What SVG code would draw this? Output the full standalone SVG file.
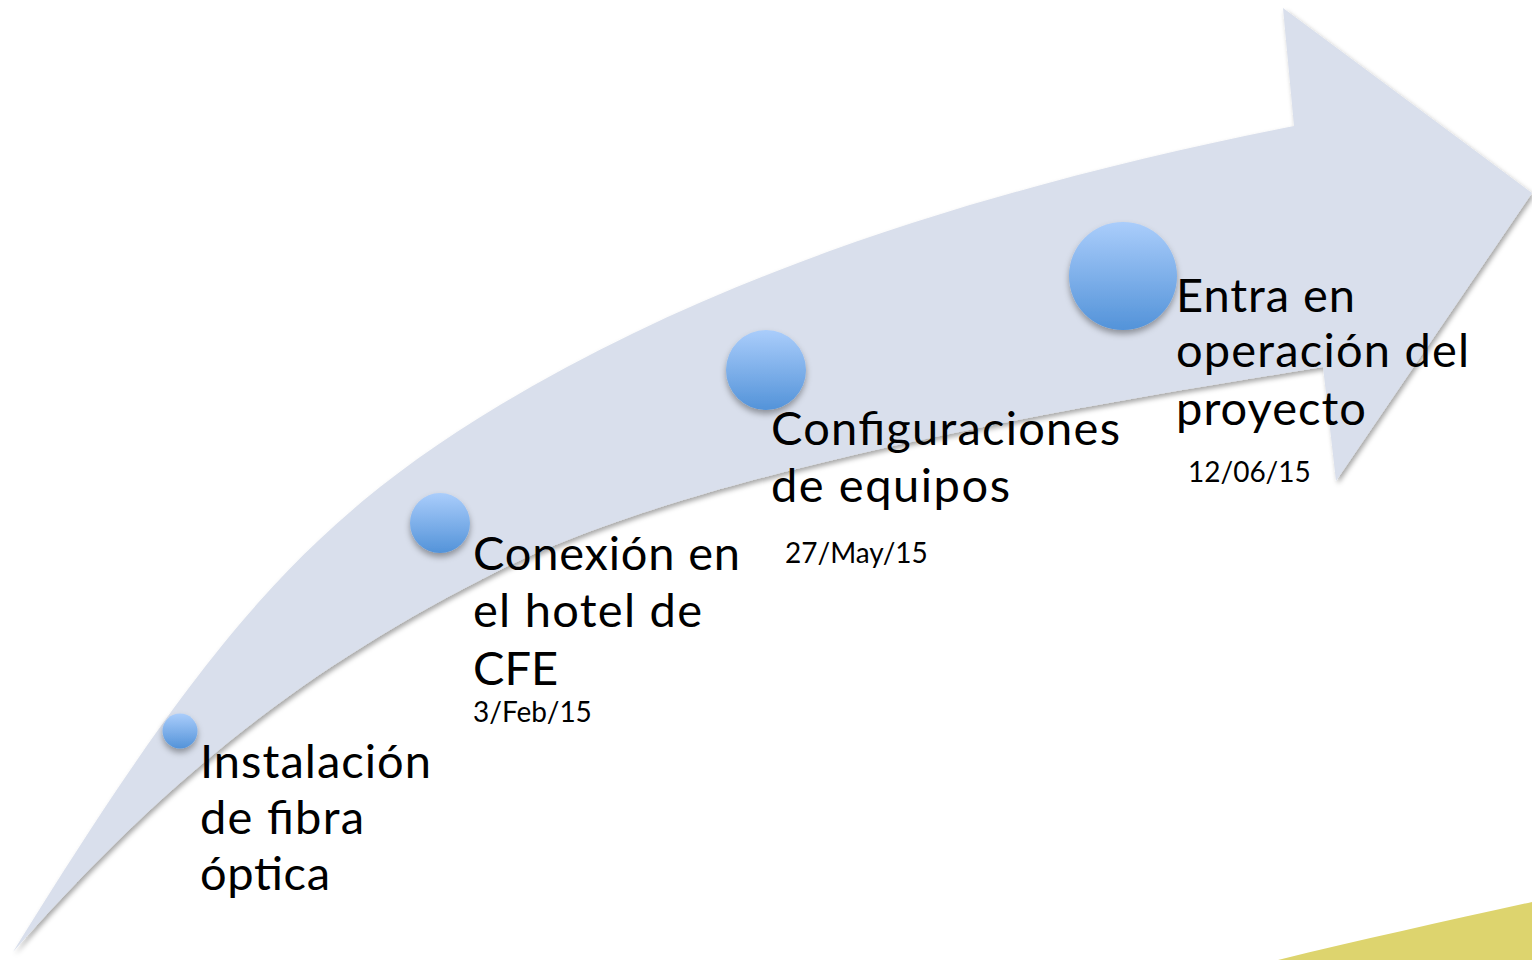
<svg xmlns="http://www.w3.org/2000/svg" width="1532" height="960" viewBox="0 0 1532 960">
  <defs>
    <linearGradient id="ball" x1="0" y1="0" x2="0" y2="1">
      <stop offset="0" stop-color="#AACDFB"/>
      <stop offset="1" stop-color="#5393D9"/>
    </linearGradient>
    <filter id="arrowShadow" x="-5%" y="-5%" width="110%" height="115%">
      <feDropShadow dx="2" dy="3" stdDeviation="2.5" flood-color="#000" flood-opacity="0.35"/>
    </filter>
    <filter id="ballShadow" x="-30%" y="-30%" width="160%" height="170%">
      <feDropShadow dx="0" dy="4" stdDeviation="3" flood-color="#000" flood-opacity="0.35"/>
    </filter>
    <style>
      .big { font-family: Lato, "Liberation Sans", sans-serif; font-size: 47px; fill: #000; }
      .date { font-family: Lato, "Liberation Sans", sans-serif; font-size: 28px; fill: #000; }
      .ball { fill: url(#ball); filter: url(#ballShadow); }
    </style>
  </defs>
  <rect width="1532" height="960" fill="#FFFFFF"/>
  <path id="accent" d="M1278,960 C1360,940 1450,920 1532,902 L1532,960 Z" fill="#DDD46E"/>
  <g id="arrow">
    <path filter="url(#arrowShadow)" fill="#D9DFEC"
      d="M13,952 C200,650 300,525 500,405 C750,255 1044,176 1294,126 L1283,8 L1532,193 L1336,481 L1323,367 C1073,407 700,470 500,570 C300,670 163,782 13,952 Z"/>
  </g>
  <g id="connectors"></g>
  <g id="node1">
    <circle class="ball" cx="180" cy="731" r="17.5"/>
    <text class="big" x="200" y="778" textLength="231" lengthAdjust="spacing">Instalación</text>
    <text class="big" x="200" y="834" textLength="164" lengthAdjust="spacing">de fibra</text>
    <text class="big" x="200" y="890" textLength="130" lengthAdjust="spacing">óptica</text>
  </g>
  <g id="node2">
    <circle class="ball" cx="440" cy="523" r="30"/>
    <text class="big" x="473" y="570" textLength="267" lengthAdjust="spacing">Conexión en</text>
    <text class="big" x="473" y="627" textLength="229" lengthAdjust="spacing">el hotel de</text>
    <text class="big" x="473" y="685">CFE</text>
    <text class="date" x="473" y="722">3/Feb/15</text>
  </g>
  <g id="node3">
    <circle class="ball" cx="766" cy="370" r="40"/>
    <text class="big" x="771" y="445" textLength="349" lengthAdjust="spacing">Configuraciones</text>
    <text class="big" x="771" y="502" textLength="239" lengthAdjust="spacing">de equipos</text>
    <text class="date" x="785" y="563">27/May/15</text>
  </g>
  <g id="node4">
    <circle class="ball" cx="1123" cy="276" r="54"/>
    <text class="big" x="1176" y="312" textLength="179" lengthAdjust="spacing">Entra en</text>
    <text class="big" x="1176" y="367" textLength="293" lengthAdjust="spacing">operación del</text>
    <text class="big" x="1176" y="425" textLength="190" lengthAdjust="spacing">proyecto</text>
    <text class="date" x="1188" y="482">12/06/15</text>
  </g>
</svg>
